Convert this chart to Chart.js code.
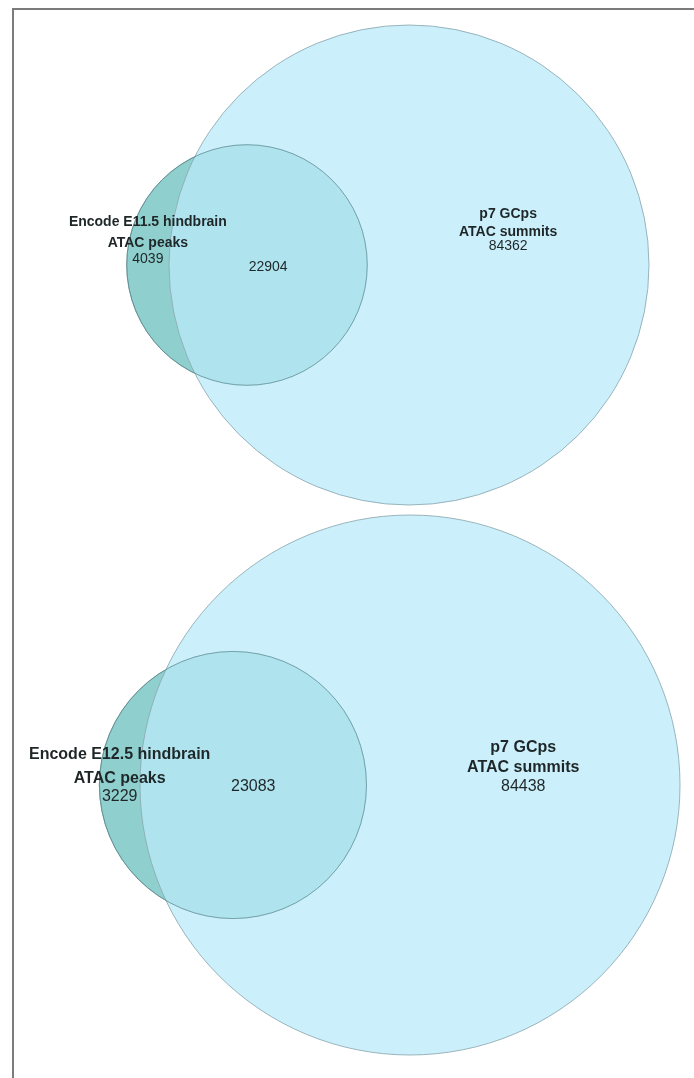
<!DOCTYPE html>
<html>
<head>
<meta charset="utf-8">
<script src="https://cdn.jsdelivr.net/npm/chart.js@4.4.0/dist/chart.umd.min.js"></script>
<style>
  html, body { margin: 0; padding: 0; background: #fff; }
  body { width: 694px; height: 1078px; position: relative; overflow: hidden; }
  #frame { position: absolute; left: 12px; top: 8px; right: 0; bottom: 0;
           border-top: 2px solid #7b7b7b; border-left: 2px solid #7b7b7b; }
  canvas { position: absolute; left: 0; }
</style>
</head>
<body>
<div id="frame"></div>
<canvas id="vennTop" width="694" height="512" style="top:0"></canvas>
<canvas id="vennBottom" width="694" height="566" style="top:512px"></canvas>
<script>
// set names
var bigName = ['p7 GCps', 'ATAC summits'];
var topSmallName = ['Encode E11.5 hindbrain', 'ATAC peaks'];
var bottomSmallName = ['Encode E12.5 hindbrain', 'ATAC peaks'];

// region counts: [only small set, shared, only big set]
var topCounts = [4039, 22904, 84362];
var bottomCounts = [3229, 23083, 84438];

// area of the lens where two circles overlap
function lensArea(r1, r2, d) {
  if (d >= r1 + r2) return 0;
  if (d <= Math.abs(r1 - r2)) return Math.PI * Math.pow(Math.min(r1, r2), 2);
  var a1 = Math.acos((d * d + r1 * r1 - r2 * r2) / (2 * d * r1));
  var a2 = Math.acos((d * d + r2 * r2 - r1 * r1) / (2 * d * r2));
  var k = Math.sqrt((-d + r1 + r2) * (d + r1 - r2) * (d - r1 + r2) * (d + r1 + r2));
  return r1 * r1 * a1 + r2 * r2 * a2 - k / 2;
}

// distance between centres so the overlap area equals the shared count
function centreDistance(r1, r2, target) {
  var lo = Math.abs(r1 - r2), hi = r1 + r2;
  for (var i = 0; i < 60; i++) {
    var mid = (lo + hi) / 2;
    if (lensArea(r1, r2, mid) > target) lo = mid; else hi = mid;
  }
  return (lo + hi) / 2;
}

var labelPlugin = {
  id: 'vennLabels',
  afterDatasetsDraw: function(chart, args, opts) {
    var ctx = chart.ctx;
    var sx = chart.scales.x, sy = chart.scales.y;
    var y0 = sy.getPixelForValue(0);
    ctx.save();
    ctx.textAlign = 'center';
    ctx.textBaseline = 'middle';
    ctx.fillStyle = '#1f2628';
    opts.lines.forEach(function(l) {
      ctx.font = (l.bold ? 'bold ' : '') + opts.size + 'px "Liberation Sans", Arial, sans-serif';
      ctx.fillText(l.text, sx.getPixelForValue(l.x), y0 + l.dy);
    });
    ctx.restore();
  }
};

function drawVenn(id, counts, smallName, layout) {
  var rSmall = Math.sqrt((counts[0] + counts[1]) / Math.PI);
  var rBig = Math.sqrt((counts[1] + counts[2]) / Math.PI);
  var d = centreDistance(rBig, rSmall, counts[1]);
  var k = layout.radiusPx / rBig; // pixels per data unit, same on both axes
  var canvas = document.getElementById(id);
  var W = canvas.width, H = canvas.height;
  var bw = 1;
  // bubble charts pad the chart area by the largest bubble (radius + border)
  var pad = rBig * k + bw;

  // label anchors at the middle of each region along the centre line
  var smallX = ((-d - rSmall) + (-rBig)) / 2;
  var sharedX = ((-rBig) + (-d + rSmall)) / 2;
  var bigX = ((-d + rSmall) + rBig) / 2;
  var o = layout.offsets;
  var lines = [
    { text: smallName[0], x: smallX, dy: o.small[0], bold: true },
    { text: smallName[1], x: smallX, dy: o.small[1], bold: true },
    { text: String(counts[0]), x: smallX, dy: o.small[2] },
    { text: String(counts[1]), x: sharedX, dy: o.shared },
    { text: bigName[0], x: bigX, dy: o.big[0], bold: true },
    { text: bigName[1], x: bigX, dy: o.big[1], bold: true },
    { text: String(counts[2]), x: bigX, dy: o.big[2] }
  ];

  var smallPoint = { x: -d, y: 0, r: rSmall * k };
  var smallEdge = 'rgba(88, 132, 136, 0.65)';

  new Chart(canvas, {
    type: 'bubble',
    data: {
      datasets: [
        {
          // outline of the small set, kept visible through the big circle
          label: smallName.join(' ') + ' outline',
          data: [smallPoint],
          backgroundColor: 'rgba(0, 0, 0, 0)',
          borderColor: smallEdge,
          borderWidth: bw,
          clip: false,
          order: -1
        },
        {
          label: bigName.join(' '),
          data: [{ x: 0, y: 0, r: rBig * k }],
          backgroundColor: 'rgba(186, 235, 250, 0.75)',
          borderColor: 'rgba(140, 168, 176, 0.85)',
          borderWidth: bw,
          clip: false,
          order: 0
        },
        {
          label: smallName.join(' '),
          data: [smallPoint],
          backgroundColor: 'rgb(143, 208, 207)',
          borderColor: smallEdge,
          borderWidth: bw,
          clip: false,
          order: 1
        }
      ]
    },
    options: {
      responsive: false,
      animation: false,
      events: [],
      layout: { padding: 0 },
      scales: {
        x: { type: 'linear', display: false, min: -(layout.cx - pad) / k, max: (W - pad - layout.cx) / k },
        y: { type: 'linear', display: false, min: -(H - pad - layout.cy) / k, max: (layout.cy - pad) / k }
      },
      plugins: {
        legend: { display: false },
        tooltip: { enabled: false },
        vennLabels: { lines: lines, size: layout.fontSize }
      }
    },
    plugins: [labelPlugin]
  });
}

drawVenn('vennTop', topCounts, topSmallName, {
  cx: 409, cy: 265, radiusPx: 240, fontSize: 14,
  offsets: { small: [-43, -22, -6], shared: 2, big: [-51, -33, -19] }
});
drawVenn('vennBottom', bottomCounts, bottomSmallName, {
  cx: 410, cy: 273, radiusPx: 270, fontSize: 16,
  offsets: { small: [-30, -6, 12], shared: 2, big: [-37, -17, 2] }
});
</script>
</body>
</html>
